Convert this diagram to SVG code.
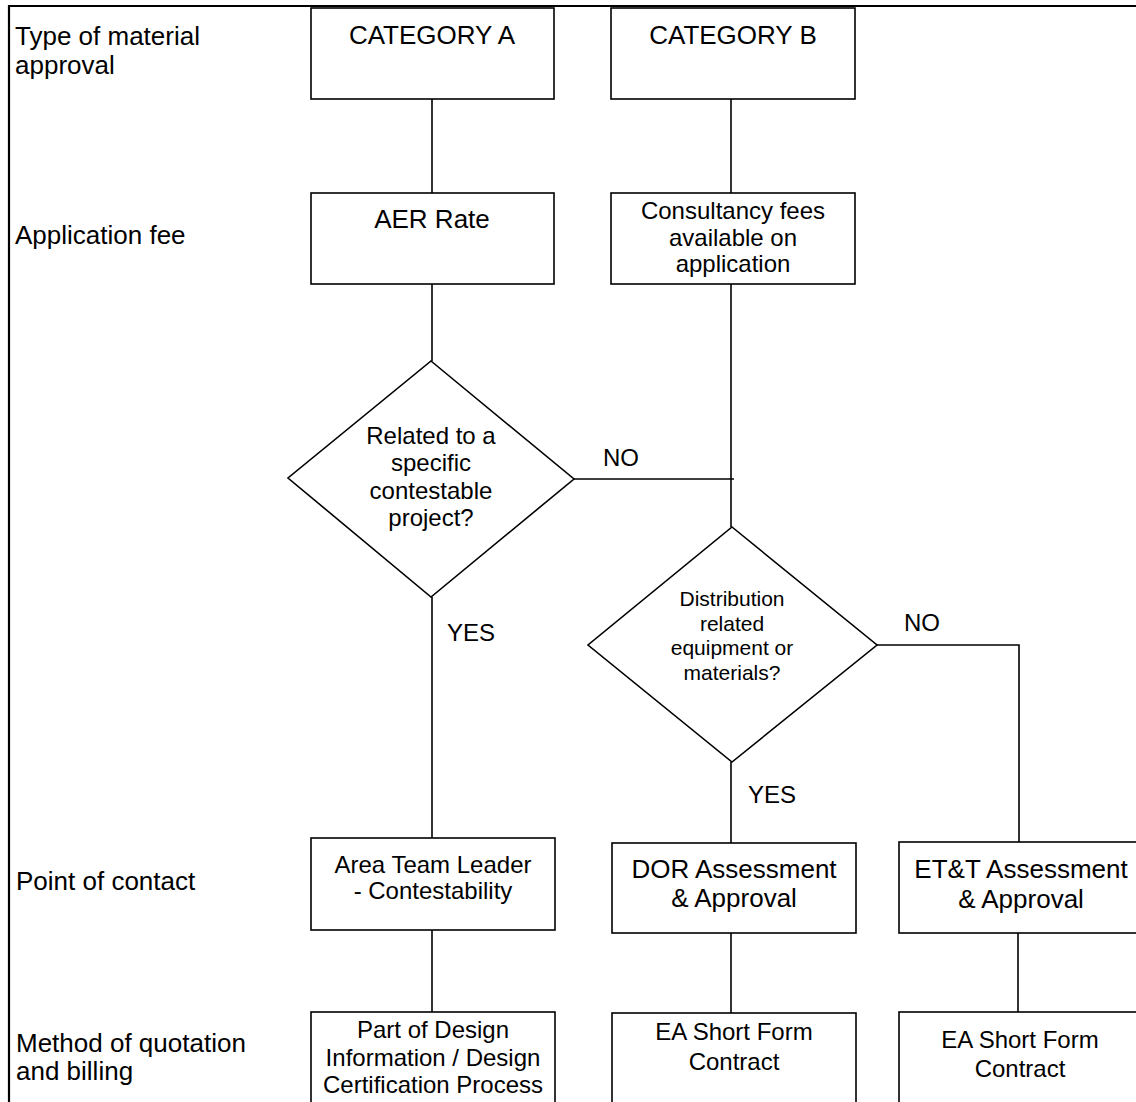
<svg xmlns="http://www.w3.org/2000/svg" width="1136" height="1102" viewBox="0 0 1136 1102">
<style>
  .box { fill: #fff; stroke: #000; stroke-width: 1.6; }
  .frame { fill: none; stroke: #000; stroke-width: 2.2; }
  .conn { fill: none; stroke: #000; stroke-width: 1.6; }
  text { font-family: "Liberation Sans", Arial, sans-serif; fill: #000; }
  .big { font-size: 26px; }
  .mid { font-size: 24px; }
  .sm { font-size: 21px; }
  .c { text-anchor: middle; }
</style>
<rect width="1136" height="1102" fill="#fff"/>
<g id="frame">
  <path class="frame" d="M9 1102 V6 H1136"/>
</g>
<g id="row-labels">
  <text class="big" x="15" y="45">Type of material</text>
  <text class="big" x="15" y="74">approval</text>
  <text class="big" x="15" y="244">Application fee</text>
  <text class="big" x="16" y="890">Point of contact</text>
  <text class="big" x="16" y="1052">Method of quotation</text>
  <text class="big" x="16" y="1080">and billing</text>
</g>
<g id="connectors">
  <path class="conn" d="M432 99 V193"/>
  <path class="conn" d="M432 284 V361"/>
  <path class="conn" d="M432 597 V838"/>
  <path class="conn" d="M432 930 V1012"/>
  <path class="conn" d="M731 99 V193"/>
  <path class="conn" d="M731 284 V527"/>
  <path class="conn" d="M574 479 H734"/>
  <path class="conn" d="M731 762 V843"/>
  <path class="conn" d="M877 645 H1019 V842"/>
  <path class="conn" d="M731 933 V1013"/>
  <path class="conn" d="M1018 933 V1012"/>
  <text class="mid" x="603" y="466">NO</text>
  <text class="mid" x="447" y="641">YES</text>
  <text class="mid" x="904" y="631">NO</text>
  <text class="mid" x="748" y="803">YES</text>
</g>
<g id="cat-a">
  <rect class="box" x="311" y="8" width="243" height="91"/>
  <text class="big c" x="432" y="44">CATEGORY A</text>
</g>
<g id="cat-b">
  <rect class="box" x="611" y="8" width="244" height="91"/>
  <text class="big c" x="733" y="44">CATEGORY B</text>
</g>
<g id="aer-rate">
  <rect class="box" x="311" y="193" width="243" height="91"/>
  <text class="big c" x="432" y="228">AER Rate</text>
</g>
<g id="consultancy">
  <rect class="box" x="611" y="193" width="244" height="91"/>
  <text class="mid c" x="733" y="219">Consultancy fees</text>
  <text class="mid c" x="733" y="246">available on</text>
  <text class="mid c" x="733" y="272">application</text>
</g>
<g id="decision-contestable">
  <polygon class="box" points="431,361 574,479 431,597 288,478"/>
  <text class="mid c" x="431" y="444">Related to a</text>
  <text class="mid c" x="431" y="471">specific</text>
  <text class="mid c" x="431" y="499">contestable</text>
  <text class="mid c" x="431" y="526">project?</text>
</g>
<g id="decision-distribution">
  <polygon class="box" points="732,527 877,645 732,762 588,645"/>
  <text class="sm c" x="732" y="606">Distribution</text>
  <text class="sm c" x="732" y="631">related</text>
  <text class="sm c" x="732" y="655">equipment or</text>
  <text class="sm c" x="732" y="680">materials?</text>
</g>
<g id="area-team-leader">
  <rect class="box" x="311" y="838" width="244" height="92"/>
  <text class="mid c" x="433" y="873">Area Team Leader</text>
  <text class="mid c" x="433" y="899">- Contestability</text>
</g>
<g id="dor-assessment">
  <rect class="box" x="612" y="843" width="244" height="90"/>
  <text class="big c" x="734" y="878">DOR Assessment</text>
  <text class="big c" x="734" y="907">&amp; Approval</text>
</g>
<g id="ett-assessment">
  <rect class="box" x="899" y="842" width="250" height="91"/>
  <text class="big c" x="1021" y="878">ET&amp;T Assessment</text>
  <text class="big c" x="1021" y="908">&amp; Approval</text>
</g>
<g id="design-certification">
  <rect class="box" x="311" y="1012" width="244" height="100"/>
  <text class="mid c" x="433" y="1038">Part of Design</text>
  <text class="mid c" x="433" y="1066">Information / Design</text>
  <text class="mid c" x="433" y="1093">Certification Process</text>
</g>
<g id="dor-contract">
  <rect class="box" x="612" y="1013" width="244" height="100"/>
  <text class="mid c" x="734" y="1040">EA Short Form</text>
  <text class="mid c" x="734" y="1070">Contract</text>
</g>
<g id="ett-contract">
  <rect class="box" x="899" y="1012" width="250" height="100"/>
  <text class="mid c" x="1020" y="1048">EA Short Form</text>
  <text class="mid c" x="1020" y="1077">Contract</text>
</g>
</svg>
